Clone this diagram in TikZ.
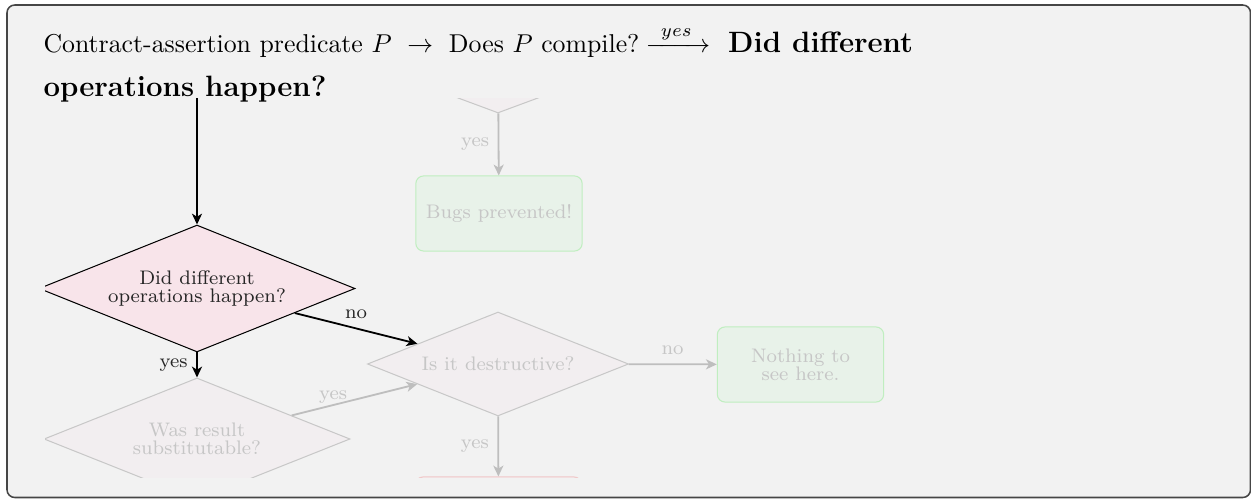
\documentclass[tikz,border=0pt]{standalone}
\usepackage{amsmath}
\usepackage{tikz}
\usetikzlibrary{shapes.geometric,arrows.meta,positioning}

\definecolor{framebg}{RGB}{242,242,242}
\definecolor{frameline}{RGB}{70,70,70}
\definecolor{didfill}{RGB}{248,228,234}
\definecolor{ghostfill}{RGB}{242,238,240}
\definecolor{ghostline}{RGB}{200,200,200}
\definecolor{ghosttext}{RGB}{198,198,198}
\definecolor{ghostarrow}{RGB}{190,190,190}
\definecolor{goodfill}{RGB}{232,242,233}
\definecolor{goodline}{RGB}{192,238,192}
\definecolor{badline}{RGB}{240,200,200}
\definecolor{badfill}{RGB}{244,234,236}

\begin{document}
\begin{tikzpicture}[x=0.3876pt, y=-0.3876pt,
    every node/.style={font={\fontsize{7.6}{7.1}\selectfont}},
    decision/.style={diamond, aspect=2.5, draw, fill=didfill, text=black!85, inner sep=0pt, align=center},
    ghostdiamond/.style={diamond, aspect=2.5, draw=ghostline, fill=ghostfill, text=ghosttext, inner sep=0pt, align=center},
    ghostbox/.style={rectangle, rounded corners=3pt, draw=goodline, fill=goodfill, text=ghosttext,
        minimum width=64.5pt, minimum height=29.1pt, inner sep=0pt, align=center},
    flow/.style={line width=0.7pt, -{Stealth[length=4.2pt, width=3.9pt, inset=1.2pt]}},
    ghostflow/.style={flow, draw=ghostarrow},
    lbl/.style={text=black!85},
    ghostlbl/.style={text=ghosttext}]
\useasboundingbox (0,0) rectangle (1251,499);
% slide frame
\draw [frameline, line width=0.6pt, fill=framebg, rounded corners=3pt] (7,5) rectangle (1250.5,497.5);
% heading text
\node (title) [anchor=base west, align=left, inner sep=0pt, font={\fontsize{10}{17.4}\selectfont}] at (43,97)
    {Contract-assertion predicate $P\ \to\;$ Does $P$ compile?\hspace{2.5pt}$\xrightarrow{\ yes\ }$\hspace{7pt}{\fontsize{11.4}{17.4}\selectfont\bfseries Did different}\\
     {\fontsize{11.4}{17.4}\selectfont\bfseries operations happen?}};
% flow chart (clipped view)
\begin{scope}
\clip (45,99) rectangle (1251,477.6);
\coordinate (entry) at (197,90);
\node (top) [ghostdiamond, aspect=2.7, minimum width=108.5pt, minimum height=40.3pt] at (498,61) {};
\node (bugs) [ghostbox] at (499,213.5) {Bugs prevented!};
\node (did) [decision, minimum width=122.5pt, minimum height=49.2pt] at (197,288.5) {Did different\\operations happen?};
\node (subst) [ghostdiamond, minimum width=118.6pt, minimum height=47.3pt] at (197,439) {Was result\\substitutable?};
\node (destr) [ghostdiamond, minimum width=101.2pt, minimum height=40.3pt] at (498,364) {Is it destructive?};
\node (nothing) [ghostbox] at (800.5,364.5) {Nothing to\\see here.};
\node (bug) [ghostbox, draw=badline, fill=badfill] at (498.5,514.5) {};
% arrows
\draw [ghostflow] (top) -- node [ghostlbl, left] {yes} (bugs);
\draw [ghostflow] (subst) -- node [ghostlbl, pos=0.33, yshift=2.9pt] {yes} (destr);
\draw [ghostflow] (destr) -- node [ghostlbl, above] {no} (nothing);
\draw [ghostflow] (destr) -- node [ghostlbl, left] {yes} (bug);
\draw [flow] (entry) -- (did);
\draw [flow] (did) -- node [lbl, left] {yes} (subst);
\draw [flow] (did) -- node [lbl, above] {no} (destr);
\end{scope}
\end{tikzpicture}
\end{document}
